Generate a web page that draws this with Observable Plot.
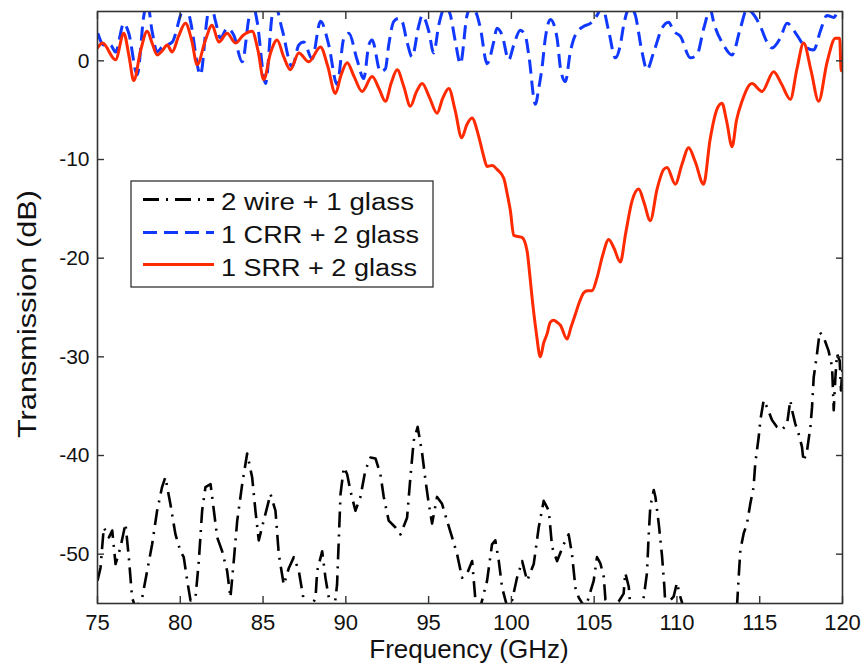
<!DOCTYPE html>
<html>
<head>
<meta charset="utf-8">
<script src="https://cdn.jsdelivr.net/npm/d3@7"></script>
<script src="https://cdn.jsdelivr.net/npm/@observablehq/plot@0.6"></script>
<style>
  body { margin: 0; background: #fff; }
  svg { display: block; }
</style>
</head>
<body>
<div id="chart"></div>
<script>
// ---- Data ----
const seriesNames = ["2 wire + 1 glass", "1 CRR + 2 glass", "1 SRR + 2 glass"];

const wireFreq = [75.0,75.18,75.38,75.69,75.89,76.09,76.39,76.69,76.89,77.09,77.3,77.7,78.0,78.3,78.6,78.9,79.1,79.4,79.71,80.01,80.21,80.42,80.62,80.92,81.12,81.32,81.52,81.83,82.03,82.23,82.53,82.83,83.03,83.23,83.44,83.74,84.04,84.34,84.54,84.74,85.04,85.45,85.75,85.95,86.25,86.56,86.86,87.16,87.46,87.76,88.17,88.27,88.57,88.77,88.97,89.27,89.47,89.68,89.88,90.08,90.28,90.58,90.88,91.18,91.49,91.79,92.09,92.29,92.59,93.0,93.3,93.7,93.9,94.1,94.34,94.61,94.81,95.01,95.21,95.51,95.81,96.11,96.42,96.72,97.02,97.32,97.63,97.83,98.03,98.53,98.83,99.03,99.24,99.44,99.74,100.04,100.34,100.65,100.95,101.35,101.65,101.95,102.26,102.46,102.76,103.16,103.46,103.66,103.87,104.07,104.47,104.97,105.17,105.37,105.58,105.68,105.98,106.48,106.78,106.88,107.09,107.19,107.79,108.0,108.19,108.29,108.39,108.6,108.7,108.9,109.1,109.24,109.3,109.8,110.0,110.2,110.41,111.0,112.5,113.5,113.63,113.73,113.83,114.03,114.23,114.43,114.63,114.73,114.94,115.04,115.24,115.44,115.74,116.04,116.35,116.65,116.85,116.95,117.15,117.35,117.55,117.65,117.86,118.06,118.16,118.26,118.46,118.62,118.86,119.16,119.37,119.47,119.57,119.67,119.83,119.91,120.0];
const wireDb = [-52.7,-51.4,-47.3,-48.3,-47.6,-51.0,-49.3,-46.9,-50.3,-54.4,-55.5,-54.4,-51.7,-49.0,-45.6,-43.2,-42.2,-44.9,-48.0,-49.7,-50.3,-52.7,-54.7,-54.4,-50.7,-45.6,-43.2,-42.9,-45.6,-48.3,-49.7,-51.7,-54.4,-50.7,-46.6,-42.9,-39.8,-42.2,-45.6,-48.6,-46.6,-43.9,-45.6,-50.0,-53.1,-51.4,-50.3,-51.7,-54.7,-56.0,-54.4,-51.7,-49.7,-52.4,-54.4,-56.0,-53.1,-43.9,-41.2,-41.9,-43.6,-45.6,-44.2,-41.5,-40.2,-40.3,-41.9,-44.2,-46.6,-47.3,-48.0,-46.3,-42.2,-38.5,-37.1,-39.8,-42.5,-44.9,-46.9,-44.2,-44.9,-46.6,-48.3,-50.0,-52.4,-52.0,-50.7,-54.7,-56.0,-52.7,-49.0,-48.6,-50.7,-53.4,-55.3,-54.7,-52.4,-50.7,-52.7,-51.0,-47.3,-44.6,-45.6,-49.3,-50.7,-49.0,-48.0,-50.0,-53.4,-54.4,-55.5,-52.7,-50.3,-50.9,-52.3,-54.6,-55.2,-54.8,-54.0,-51.9,-53.3,-55.5,-55.5,-54.3,-51.9,-48.2,-45.2,-43.5,-44.2,-46.9,-50.2,-53.3,-55.2,-54.3,-52.9,-54.3,-55.5,-58.0,-58.0,-56.0,-55.2,-52.3,-49.6,-47.9,-46.9,-44.9,-43.2,-40.8,-38.1,-36.4,-34.4,-35.1,-36.4,-37.1,-37.4,-36.8,-34.4,-35.4,-36.8,-37.8,-39.1,-40.6,-39.5,-37.1,-35.1,-32.1,-29.7,-27.5,-28.0,-29.4,-31.0,-35.4,-32.1,-29.7,-30.4,-33.4,-31.0];

const crrFreq = [75.02,75.38,75.78,76.09,76.59,76.89,77.4,77.8,78.0,78.3,78.6,78.9,79.51,80.01,80.31,80.62,81.22,81.62,81.82,82.13,82.43,82.83,83.23,83.74,84.14,84.34,84.64,85.15,85.55,85.75,86.15,86.76,87.16,87.46,87.96,88.47,88.97,89.47,89.88,90.18,90.68,91.08,91.39,91.59,92.09,92.39,92.59,92.9,93.2,93.4,93.7,94.0,94.41,94.61,95.01,95.31,95.61,96.02,96.32,96.62,96.92,97.32,97.6,97.93,98.13,98.53,98.93,99.13,99.44,99.84,100.14,100.54,100.85,101.05,101.45,101.65,101.85,102.05,102.36,102.76,102.96,103.26,103.56,103.86,104.37,104.77,105.17,105.48,105.88,106.28,106.58,106.78,107.19,107.49,107.89,108.19,108.6,109.1,109.5,109.8,110.2,110.81,111.21,111.62,112.02,112.22,112.82,113.33,113.83,114.23,114.63,115.04,115.44,115.74,116.24,116.65,117.25,117.65,118.26,118.66,119.06,119.47,119.87,120.0];
const crrDb = [2.8,1.6,1.6,0.9,3.8,2.8,-1.4,4.6,6.0,3.0,0.9,1.4,1.9,4.6,6.0,4.0,-1.4,4.3,6.0,4.0,2.3,3.3,2.6,-0.1,4.3,6.0,4.0,-2.3,4.6,5.5,3.2,-0.6,1.6,1.9,0.2,4.0,1.6,-2.4,2.3,2.8,0.1,-1.8,1.6,2.1,-1.1,-0.8,1.6,4.0,4.3,4.0,1.9,0.4,3.6,4.6,3.0,0.8,3.6,5.5,4.6,1.9,-0.3,4.6,5.5,4.6,3.3,-0.3,1.9,3.3,2.6,0.1,1.6,3.1,2.5,0.6,-4.4,-2.8,-0.7,2.3,4.2,2.3,-0.7,-2.1,0.9,2.6,3.5,3.8,4.6,5.5,3.0,0.3,1.6,3.6,5.5,4.6,0.9,-0.9,0.9,3.3,3.9,3.0,2.5,0.3,0.6,3.3,5.2,3.9,1.6,0.6,3.3,5.2,4.7,3.5,1.9,1.3,2.3,3.8,2.6,1.6,1.1,3.0,4.6,4.4,5.5,5.5];

const srrFreq = [75.0,75.3,76.09,76.59,76.9,77.19,77.6,78.0,78.3,78.6,78.9,79.21,79.51,79.9,80.31,80.7,81.02,81.5,81.92,82.33,82.83,83.33,83.8,84.34,84.7,85.04,85.45,85.85,86.25,86.65,87.16,87.76,88.47,88.9,89.37,89.7,90.08,90.5,90.98,91.59,92.0,92.39,92.75,93.1,93.5,93.9,94.25,94.61,95.05,95.51,95.85,96.22,96.6,97.0,97.3,97.62,98.0,98.3,98.53,98.85,99.13,99.54,99.75,99.94,100.14,100.4,100.64,100.95,101.1,101.25,101.5,101.75,101.95,102.15,102.35,102.56,102.76,102.96,103.36,103.6,103.86,104.1,104.37,104.6,104.87,105.17,105.5,105.88,106.2,106.58,106.9,107.29,107.69,108.0,108.39,108.8,109.2,109.4,109.9,110.3,110.71,111.1,111.61,112.0,112.42,112.72,113.0,113.33,113.6,113.93,114.53,115.14,115.84,116.3,116.85,117.25,117.65,118.1,118.56,119.06,119.57,119.83,119.92,120.0];
const srrDb = [1.3,1.8,0.1,2.8,0.5,-2.0,1.0,3.0,1.8,0.6,1.0,1.6,0.9,2.5,3.8,2.0,-0.4,2.0,3.6,1.9,2.8,1.8,2.6,3.0,1.0,-1.9,0.8,2.1,0.4,-0.9,0.8,-0.1,1.4,-0.5,-3.3,-1.5,-0.2,-1.6,-3.1,-1.6,-2.8,-4.1,-2.2,-0.9,-2.6,-4.6,-3.2,-2.3,-3.7,-5.3,-3.8,-2.8,-5.0,-7.8,-6.5,-5.8,-7.5,-9.5,-10.7,-10.6,-11.0,-11.9,-13.5,-15.2,-17.7,-17.8,-17.9,-19.3,-21.5,-24.0,-27.5,-30.0,-28.6,-27.7,-26.5,-26.3,-26.5,-26.8,-28.2,-27.0,-25.7,-24.5,-23.5,-23.3,-23.3,-22.0,-19.8,-18.1,-19.0,-20.4,-17.5,-14.2,-13.0,-14.3,-16.2,-13.0,-11.0,-10.8,-12.5,-10.5,-8.8,-10.2,-12.5,-8.0,-4.9,-4.3,-6.1,-8.7,-6.0,-4.1,-2.3,-3.1,-1.1,-2.3,-3.9,-0.8,1.8,-1.0,-4.1,-0.2,2.3,2.3,-1.0,-1.0];

const xTicks = [75, 80, 85, 90, 95, 100, 105, 110, 115, 120];
const yTicks = [0, -10, -20, -30, -40, -50];

const seriesColors = ["#000000", "#1038ff", "#ff2a00"];
const seriesDash = ["16,7,2,7", "14,7", null];

// ---- Build tables ----
const toRows = (f, v) => f.map((x, i) => ({f: x, db: v[i]}));
const wireRows = toRows(wireFreq, wireDb);
const crrRows = toRows(crrFreq, crrDb);
const srrRows = toRows(srrFreq, srrDb);

const fmtY = d => d < 0 ? "-" + Math.abs(d) : String(d);

const plot = Plot.plot({
  width: 868,
  height: 670,
  marginLeft: 97,
  marginRight: 26,
  marginTop: 11,
  marginBottom: 67,
  x: {domain: [75, 120]},
  y: {domain: [-55, 5]},
  style: {fontFamily: "'Liberation Sans', Arial, Helvetica, sans-serif", background: "#fff", color: "#111"},
  marks: [
    Plot.line(wireRows, {x: "f", y: "db", stroke: seriesColors[0], strokeWidth: 2.6, strokeDasharray: seriesDash[0], strokeLinecap: "butt", clip: true}),
    Plot.line(crrRows, {x: "f", y: "db", stroke: seriesColors[1], strokeWidth: 3, strokeDasharray: seriesDash[1], strokeLinecap: "butt", curve: "monotone-x", clip: true}),
    Plot.line(srrRows, {x: "f", y: "db", stroke: seriesColors[2], strokeWidth: 3, curve: "monotone-x", clip: true}),
    Plot.frame({stroke: "#333", strokeWidth: 1.6}),
    Plot.axisX(xTicks, {anchor: "bottom", tickSize: -7, tickPadding: 18, fontSize: 22, label: null, stroke: "#333", strokeWidth: 1.4}),
    Plot.axisX(xTicks, {anchor: "top", tickSize: -7, tickFormat: () => "", label: null, stroke: "#333", strokeWidth: 1.4}),
    Plot.axisY(yTicks, {anchor: "left", tickSize: -7, tickPadding: 15, fontSize: 21, tickFormat: fmtY, label: null, stroke: "#333", strokeWidth: 1.4}),
    Plot.axisY(yTicks, {anchor: "right", tickSize: -7, tickFormat: () => "", label: null, stroke: "#333", strokeWidth: 1.4})
  ]
});

document.getElementById("chart").appendChild(plot);

// ---- Axis titles and legend ----
const svg = d3.select(plot);
const font = "'Liberation Sans', Arial, Helvetica, sans-serif";

svg.append("text")
  .attr("x", 469).attr("y", 658)
  .attr("text-anchor", "middle")
  .attr("font-family", font).attr("font-size", 26).attr("fill", "#111")
  .text("Frequency (GHz)");

svg.append("text")
  .attr("transform", "translate(36,314) rotate(-90)")
  .attr("text-anchor", "middle")
  .attr("font-family", font).attr("font-size", 26).attr("fill", "#111")
  .attr("textLength", 248).attr("lengthAdjust", "spacingAndGlyphs")
  .text("Transmission (dB)");

const lg = svg.append("g").attr("text-anchor", "start");
lg.append("rect")
  .attr("x", 131).attr("y", 181).attr("width", 302).attr("height", 106)
  .attr("fill", "#fff").attr("stroke", "#333").attr("stroke-width", 1.3);

const rowLineY = [199.5, 232.5, 264.5];
const rowTextY = [210, 243, 276];
const rowTextLen = [193, 198, 196];
seriesNames.forEach((name, i) => {
  const ln = lg.append("line")
    .attr("x1", 143).attr("x2", 214)
    .attr("y1", rowLineY[i]).attr("y2", rowLineY[i])
    .attr("stroke", seriesColors[i]).attr("stroke-width", 3);
  if (seriesDash[i]) ln.attr("stroke-dasharray", seriesDash[i]);
  lg.append("text")
    .attr("x", 221).attr("y", rowTextY[i])
    .attr("text-anchor", "start")
    .attr("font-family", font).attr("font-size", 23).attr("fill", "#111")
    .attr("textLength", rowTextLen[i]).attr("lengthAdjust", "spacingAndGlyphs")
    .text(name);
});
</script>
</body>
</html>
